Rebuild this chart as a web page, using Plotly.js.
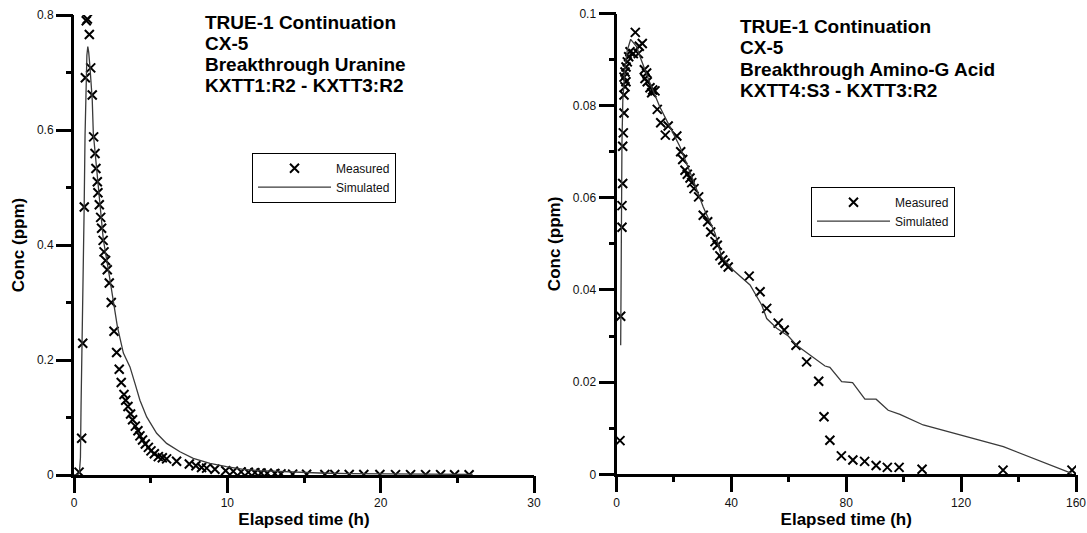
<!DOCTYPE html>
<html>
<head>
<meta charset="utf-8">
<script src="https://cdn.plot.ly/plotly-3.0.1.min.js"></script>
<style>
html,body{margin:0;padding:0;background:#fff;}
#chart{width:1087px;height:533px;}
</style>
</head>
<body>
<div id="chart"></div>
<script>
// ---- Left panel: Uranine (KXTT1:R2 - KXTT3:R2) ----
const uranineMeasT = [0.33, 0.50, 0.57, 0.67, 0.74, 0.80, 0.87, 1.00, 1.09, 1.19, 1.28, 1.37, 1.43, 1.52, 1.56, 1.65, 1.74, 1.80, 1.90, 1.96, 2.06, 2.17, 2.30, 2.43, 2.61, 2.78, 2.95, 3.08, 3.26, 3.37, 3.52, 3.69, 3.82, 4.00, 4.17, 4.30, 4.47, 4.65, 4.85, 5.02, 5.24, 5.50, 5.76, 6.04, 6.69, 7.52, 7.95, 8.32, 8.65, 9.19, 9.89, 10.39, 10.9, 11.37, 11.8, 12.2, 12.6, 13.1, 13.5, 14.26, 15.17, 16.36, 17.01, 17.95, 18.90, 19.95, 20.97, 21.95, 22.93, 23.91, 24.82, 25.77];
const uranineMeasC = [0.005, 0.064, 0.229, 0.466, 0.691, 0.790, 0.793, 0.766, 0.708, 0.661, 0.588, 0.559, 0.533, 0.510, 0.491, 0.470, 0.448, 0.429, 0.408, 0.388, 0.373, 0.357, 0.334, 0.300, 0.250, 0.213, 0.184, 0.161, 0.140, 0.130, 0.119, 0.106, 0.096, 0.085, 0.077, 0.068, 0.061, 0.054, 0.048, 0.042, 0.037, 0.032, 0.030, 0.028, 0.024, 0.019, 0.016, 0.013, 0.012, 0.010, 0.0075, 0.0064, 0.0055, 0.0048, 0.004, 0.0035, 0.003, 0.0025, 0.002, 0.0015, 0.0012, 0.001, 0.001, 0.0009, 0.0008, 0.0008, 0.0007, 0.0007, 0.0006, 0.0006, 0.0005, 0.0005];
const uranineSimT = [0, 0.2, 0.35, 0.42, 0.46, 0.5, 0.55, 0.61, 0.66, 0.72, 0.78, 0.84, 0.9, 0.96, 1.04, 1.19, 1.26, 1.48, 1.69, 1.91, 2.24, 2.56, 2.83, 3.22, 3.65, 3.98, 4.30, 4.74, 5.39, 6.04, 6.91, 7.78, 8.87, 9.95, 11.04, 12.1, 14, 16, 18, 20, 23, 26];
const uranineSimC = [0, 0, 0.003, 0.03, 0.12, 0.21, 0.28, 0.38, 0.46, 0.59, 0.68, 0.73, 0.745, 0.735, 0.71, 0.652, 0.594, 0.536, 0.478, 0.41, 0.357, 0.299, 0.258, 0.212, 0.188, 0.159, 0.130, 0.101, 0.0725, 0.055, 0.0405, 0.029, 0.0203, 0.0145, 0.0099, 0.0075, 0.005, 0.0035, 0.0025, 0.002, 0.0014, 0.001];

// ---- Right panel: Amino-G Acid (KXTT4:S3 - KXTT3:R2) ----
const aminoMeasT = [1.22, 1.46, 1.91, 1.91, 2.16, 2.16, 2.37, 2.61, 2.61, 2.61, 2.96, 2.96, 3.3, 3.31, 3.76, 4.24, 4.70, 5.85, 6.55, 7.6, 7.94, 8.98, 9.69, 9.92, 10.5, 10.7, 11.67, 12.25, 12.6, 13.4, 14.2, 15.4, 17.0, 18.0, 21.0, 22.35, 23.05, 23.85, 24.65, 25.6, 26.2, 27.0, 28.6, 30.2, 31.75, 32.8, 34.3, 35.1, 36.0, 37.0, 37.8, 38.9, 46.2, 50.0, 52.3, 56.3, 58.4, 62.5, 66.2, 70.4, 72.25, 74.3, 78.3, 82.3, 86.4, 90.4, 94.3, 98.4, 106.4, 134.6, 158.6];
const aminoMeasC = [0.0073, 0.0343, 0.0536, 0.0583, 0.0631, 0.0712, 0.0741, 0.0784, 0.0823, 0.0862, 0.0841, 0.0873, 0.0852, 0.0884, 0.0895, 0.0906, 0.0917, 0.0913, 0.0959, 0.0913, 0.0929, 0.0935, 0.0878, 0.0859, 0.0871, 0.0852, 0.0839, 0.0828, 0.0834, 0.0832, 0.0792, 0.0763, 0.0736, 0.0756, 0.0734, 0.0700, 0.0683, 0.0660, 0.0651, 0.0643, 0.0633, 0.0620, 0.0602, 0.0562, 0.0548, 0.0526, 0.0505, 0.0497, 0.0474, 0.0465, 0.0458, 0.0450, 0.0430, 0.0396, 0.0360, 0.0328, 0.0313, 0.0280, 0.0244, 0.0202, 0.0125, 0.0074, 0.0040, 0.0031, 0.0028, 0.0019, 0.0015, 0.0015, 0.0011, 0.0009, 0.0009];
const aminoSimT = [1.46, 1.6, 1.9, 2.2, 2.96, 3.76, 4.93, 7.0, 8.2, 11.7, 15.1, 18.6, 22.1, 26.7, 30.2, 34.3, 36.6, 40.7, 46.5, 50.6, 52.3, 55.8, 59.8, 62.7, 72.6, 74.3, 78.4, 82.2, 86.5, 90.4, 94.6, 98.7, 106.8, 134.7, 158.5];
const aminoSimC = [0.028, 0.05, 0.072, 0.0812, 0.0884, 0.092, 0.0944, 0.0928, 0.0906, 0.0848, 0.0797, 0.0754, 0.0711, 0.0638, 0.058, 0.0523, 0.0472, 0.0443, 0.0411, 0.0367, 0.0338, 0.0317, 0.030, 0.028, 0.0235, 0.0232, 0.0201, 0.0199, 0.0163, 0.0163, 0.0139, 0.013, 0.0107, 0.006, 0.0002];

// ---- Text ----
const leftTitleLines = ['TRUE-1 Continuation', 'CX-5', 'Breakthrough Uranine', 'KXTT1:R2 - KXTT3:R2'];
const rightTitleLines = ['TRUE-1 Continuation', 'CX-5', 'Breakthrough Amino-G Acid', 'KXTT4:S3 - KXTT3:R2'];
const seriesNames = ['Measured', 'Simulated'];
const xTitle = 'Elapsed time (h)';
const yTitle = 'Conc (ppm)';

const FONT = 'Arial, Liberation Sans, sans-serif';
const markerStyle = {symbol: 'x-thin', size: 9, color: '#000', line: {color: '#000', width: 2}};
const lineStyle = {color: '#3a3a3a', width: 1.3};

const traces = [
  {x: uranineMeasT, y: uranineMeasC, name: seriesNames[0], mode: 'markers', marker: markerStyle, xaxis: 'x', yaxis: 'y', legend: 'legend'},
  {x: uranineSimT, y: uranineSimC, name: seriesNames[1], mode: 'lines', line: lineStyle, xaxis: 'x', yaxis: 'y', legend: 'legend'},
  {x: aminoMeasT, y: aminoMeasC, name: seriesNames[0], mode: 'markers', marker: markerStyle, xaxis: 'x2', yaxis: 'y2', legend: 'legend2'},
  {x: aminoSimT, y: aminoSimC, name: seriesNames[1], mode: 'lines', line: lineStyle, xaxis: 'x2', yaxis: 'y2', legend: 'legend2'},
  // empty carriers so the minor-tick axes exist
  {x: [], y: [], xaxis: 'x3', yaxis: 'y3', showlegend: false, hoverinfo: 'skip'},
  {x: [], y: [], xaxis: 'x4', yaxis: 'y4', showlegend: false, hoverinfo: 'skip'}
];

const W = 1087, H = 533, ML = 74, MR = 11, MT = 13, MB = 58;
const PW = W - ML - MR, PH = H - MT - MB;
const px = v => (v - ML) / PW;
const py = v => (H - MB - v) / PH;

const majorAxis = (extra) => Object.assign({
  showline: true, linecolor: '#000', linewidth: 3,
  ticks: 'outside', ticklen: 15, tickwidth: 3, tickcolor: '#000',
  showgrid: false, zeroline: false,
  tickfont: {family: FONT, size: 12, color: '#111'}
}, extra);
const minorAxis = (extra) => Object.assign({
  showline: false, ticks: 'outside', ticklen: 7, tickwidth: 3, tickcolor: '#000',
  showticklabels: false, showgrid: false, zeroline: false
}, extra);
const xTitleObj = {text: xTitle, font: {family: FONT, size: 17, weight: 'bold', color: '#000'}, standoff: 4};
const yTitleObj = {text: yTitle, font: {family: FONT, size: 17, weight: 'bold', color: '#000'}, standoff: 8};

const xd1 = [0, px(534)], yd1 = [0, py(15)];
const xd2 = [px(616.5), 1], yd2 = [py(474.3), py(13.5)];

const annotations = [];
const leftY = [22.7, 43.4, 64.2, 85];
const rightY = [26.7, 47.7, 69, 90.7];
leftTitleLines.forEach((t, i) => annotations.push({text: t, xref: 'paper', yref: 'paper', x: px(204), y: py(leftY[i]), xanchor: 'left', yanchor: 'middle', showarrow: false, borderpad: 0, font: {family: FONT, size: 19, weight: 'bold', color: '#000'}}));
rightTitleLines.forEach((t, i) => annotations.push({text: t, xref: 'paper', yref: 'paper', x: px(739), y: py(rightY[i]), xanchor: 'left', yanchor: 'middle', showarrow: false, borderpad: 0, font: {family: FONT, size: 19, weight: 'bold', color: '#000'}}));

const legendBase = {bordercolor: '#000', borderwidth: 1, bgcolor: '#fff', font: {family: FONT, size: 12, color: '#111'}, itemwidth: 73, xanchor: 'left', yanchor: 'top', tracegroupgap: 0};

const layout = {
  width: W, height: H,
  margin: {l: ML, r: MR, t: MT, b: MB},
  paper_bgcolor: 'rgba(255,255,255,0)', plot_bgcolor: 'rgba(255,255,255,0)',
  font: {family: FONT, color: '#000'},
  showlegend: true,
  xaxis: majorAxis({domain: xd1, range: [0, 30], dtick: 10, tick0: 0, title: xTitleObj, anchor: 'y'}),
  yaxis: majorAxis({domain: yd1, range: [0, 0.8], dtick: 0.2, tick0: 0, title: yTitleObj, anchor: 'x'}),
  xaxis2: majorAxis({domain: xd2, range: [0, 160], dtick: 40, tick0: 0, title: xTitleObj, anchor: 'y2'}),
  yaxis2: majorAxis({domain: yd2, range: [0, 0.1], dtick: 0.02, tick0: 0, title: yTitleObj, anchor: 'x2'}),
  xaxis3: minorAxis({domain: xd1, range: [0, 30], dtick: 5, tick0: 0, anchor: 'y3'}),
  yaxis3: minorAxis({domain: yd1, range: [0, 0.8], dtick: 0.1, tick0: 0, anchor: 'x3'}),
  xaxis4: minorAxis({domain: xd2, range: [0, 160], dtick: 20, tick0: 0, anchor: 'y4'}),
  yaxis4: minorAxis({domain: yd2, range: [0, 0.1], dtick: 0.01, tick0: 0, anchor: 'x4'}),
  legend: Object.assign({}, legendBase, {x: px(252), y: py(152.7)}),
  legend2: Object.assign({}, legendBase, {x: px(811), y: py(186.7)}),
  annotations: annotations
};

Plotly.newPlot('chart', traces, layout, {displayModeBar: false, staticPlot: true});
</script>
</body>
</html>
